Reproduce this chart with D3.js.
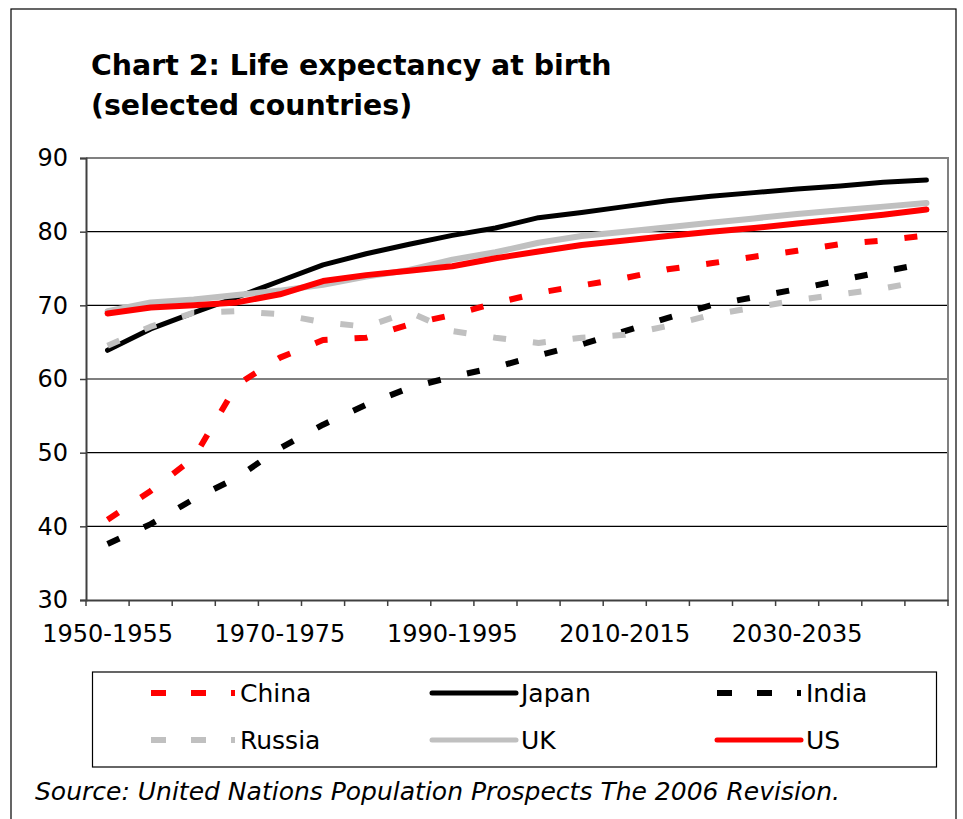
<!DOCTYPE html>
<html lang="en">
<head>
  <meta charset="UTF-8">
  <title>Chart 2: Life expectancy at birth</title>
  <script src="https://d3js.org/d3.v7.min.js"></script>
  <style>
    body { margin: 0; background: #fff; }
    svg { display: block; font-family: "DejaVu Sans", Verdana, sans-serif; }
    .axis text { font-family: "DejaVu Sans", Verdana, sans-serif; font-size: 24px; fill: #000; }
  </style>
</head>
<body>
  <svg id="chart" width="963" height="819"></svg>

  <script>
    // periods on the category axis
    const periods = ['1950-1955', '1955-1960', '1960-1965', '1965-1970', '1970-1975',
      '1975-1980', '1980-1985', '1985-1990', '1990-1995', '1995-2000',
      '2000-2005', '2005-2010', '2010-2015', '2015-2020', '2020-2025',
      '2025-2030', '2030-2035', '2035-2040', '2040-2045', '2045-2050'];

    // life expectancy (years)
    const china  = [40.9, 44.8, 49.3, 59.2, 62.9, 65.3, 65.6, 67.4, 68.7, 70.3, 71.7, 72.7, 73.7, 74.9, 75.7, 76.6, 77.4, 78.3, 78.8, 79.5];
    const japan  = [63.9, 66.8, 69.0, 71.1, 73.3, 75.5, 77.0, 78.3, 79.5, 80.5, 81.9, 82.6, 83.4, 84.2, 84.8, 85.3, 85.8, 86.2, 86.7, 87.0];
    const india  = [37.6, 40.3, 43.7, 46.6, 50.6, 53.8, 56.5, 58.8, 60.3, 61.6, 63.2, 64.7, 66.5, 68.3, 70.0, 71.1, 72.2, 73.4, 74.6, 75.7];
    const russia = [64.5, 67.1, 69.0, 69.2, 68.8, 67.7, 67.1, 69.1, 66.5, 65.6, 64.9, 65.6, 66.0, 67.2, 68.7, 69.7, 70.7, 71.5, 72.3, 73.4];
    const uk     = [69.2, 70.4, 70.8, 71.4, 72.0, 72.8, 73.9, 74.8, 76.2, 77.2, 78.5, 79.4, 80.0, 80.6, 81.2, 81.8, 82.4, 82.9, 83.4, 83.9];
    const us     = [68.9, 69.7, 70.0, 70.4, 71.5, 73.3, 74.1, 74.7, 75.3, 76.4, 77.3, 78.2, 78.8, 79.4, 80.0, 80.5, 81.1, 81.7, 82.3, 83.0];

    const yTicks = [30, 40, 50, 60, 70, 80, 90];
    const xLabels = ['1950-1955', '1970-1975', '1990-1995', '2010-2015', '2030-2035'];

    const series = [
      { name: 'China',  values: china,  color: '#ff0000', dashed: true,  width: 6 },
      { name: 'Japan',  values: japan,  color: '#000000', dashed: false, width: 5 },
      { name: 'India',  values: india,  color: '#000000', dashed: true,  width: 6 },
      { name: 'Russia', values: russia, color: '#c0c0c0', dashed: true,  width: 6 },
      { name: 'UK',     values: uk,     color: '#c0c0c0', dashed: false, width: 6 },
      { name: 'US',     values: us,     color: '#ff0000', dashed: false, width: 6 }
    ];

    const svg = d3.select('#chart');
    const plotL = 86, plotR = 948, plotT = 158, plotB = 600;

    // outer frame
    svg.append('rect')
      .attr('x', 11).attr('y', 9)
      .attr('width', 945).attr('height', 830)
      .attr('fill', 'none').attr('stroke', '#000').attr('stroke-width', 1.2);

    // title
    const title = svg.append('text')
      .attr('x', 91).attr('y', 75)
      .attr('font-size', 28.4).attr('font-weight', 'bold');
    title.append('tspan').attr('x', 91).text('Chart 2: Life expectancy at birth');
    title.append('tspan').attr('x', 91).attr('dy', 40).text('(selected countries)');

    const x = d3.scaleBand().domain(periods).range([plotL, plotR]).padding(0);
    const y = d3.scaleLinear().domain([30, 90]).range([plotB, plotT]);
    const cx = p => x(p) + x.bandwidth() / 2;

    // gridlines
    svg.append('g')
      .selectAll('line')
      .data(yTicks.filter(t => t > 30 && t < 90))
      .join('line')
        .attr('x1', plotL).attr('x2', plotR)
        .attr('y1', d => y(d)).attr('y2', d => y(d))
        .attr('stroke', '#000').attr('stroke-width', 1.2);

    // plot area border (top and right)
    svg.append('path')
      .attr('d', `M${plotL},${plotT}H${plotR}V${plotB}`)
      .attr('fill', 'none').attr('stroke', '#808080').attr('stroke-width', 2);

    // y axis
    const yAxis = svg.append('g')
      .attr('class', 'axis')
      .attr('transform', `translate(${plotL},0)`)
      .call(d3.axisLeft(y).tickValues(yTicks).tickSize(6).tickPadding(12));
    yAxis.select('.domain').attr('stroke', '#404040').attr('stroke-width', 2);
    yAxis.selectAll('.tick line').attr('stroke', '#404040').attr('stroke-width', 1.5);

    // x axis: labels centred on categories, ticks on boundaries
    const xAxis = svg.append('g')
      .attr('class', 'axis')
      .attr('transform', `translate(0,${plotB})`)
      .call(d3.axisBottom(x).tickValues(xLabels).tickSize(0).tickPadding(34));
    xAxis.select('.domain').attr('stroke', '#404040').attr('stroke-width', 2);
    xAxis.selectAll('.tick text').attr('dy', '0.35em');

    svg.append('g')
      .selectAll('line')
      .data(periods.map(p => x(p)).concat([plotR]))
      .join('line')
        .attr('x1', d => d).attr('x2', d => d)
        .attr('y1', plotB).attr('y2', plotB + 6)
        .attr('stroke', '#404040').attr('stroke-width', 1.5);

    // series lines
    const line = d3.line()
      .x((d, i) => cx(periods[i]))
      .y(d => y(d));

    svg.append('g')
      .selectAll('path')
      .data(series)
      .join('path')
        .attr('d', d => line(d.values))
        .attr('fill', 'none')
        .attr('stroke', d => d.color)
        .attr('stroke-width', d => d.width)
        .attr('stroke-linejoin', 'round')
        .attr('stroke-linecap', d => d.dashed ? 'butt' : 'round')
        .attr('stroke-dasharray', d => d.dashed ? '13,27' : null);

    // legend
    const legend = svg.append('g');
    legend.append('rect')
      .attr('x', 92.5).attr('y', 672)
      .attr('width', 844).attr('height', 95)
      .attr('fill', 'none').attr('stroke', '#000').attr('stroke-width', 1.2);

    const colX = [151, 432, 717];
    const rowY = [693, 740];
    const items = legend.selectAll('g.item')
      .data(series)
      .join('g')
        .attr('class', 'item')
        .attr('transform', (d, i) => `translate(${colX[i % 3]},${rowY[Math.floor(i / 3)]})`);

    items.append('line')
      .attr('x1', 0).attr('x2', 84).attr('y1', 0).attr('y2', 0)
      .attr('stroke', d => d.color)
      .attr('stroke-width', d => d.dashed ? 6 : 5)
      .attr('stroke-linecap', d => d.dashed ? 'butt' : 'round')
      .attr('stroke-dasharray', d => d.dashed ? '15,25' : null);

    items.append('text')
      .attr('x', 89).attr('y', 0).attr('dy', '0.36em')
      .attr('font-size', 25)
      .text(d => d.name);

    // source note
    svg.append('text')
      .attr('x', 35).attr('y', 800)
      .attr('font-size', 25).attr('font-style', 'italic')
      .text('Source: United Nations Population Prospects The 2006 Revision.');
  </script>
</body>
</html>
